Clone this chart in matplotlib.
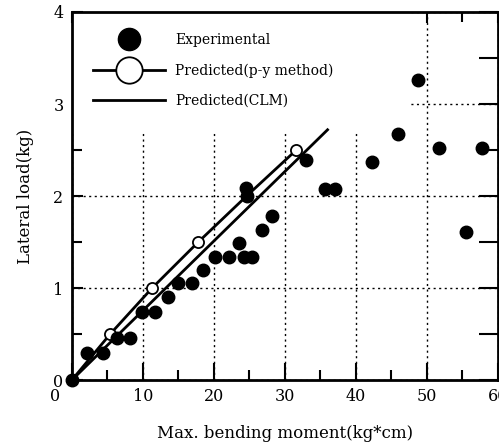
import matplotlib
matplotlib.use("Agg")
import matplotlib.pyplot as plt
from matplotlib.lines import Line2D
from matplotlib.patches import Rectangle
from matplotlib.transforms import ScaledTranslation

# experimental points (filled circles)
exp_x = [0, 2.2, 4.4, 6.3, 8.2, 9.9, 11.7, 13.5, 15.0, 16.9, 18.5, 20.1, 22.1,
         23.5, 24.3, 25.4, 24.5, 24.7, 26.8, 28.2, 32.9, 35.6, 37.0, 42.3,
         45.9, 48.8, 51.7, 57.7, 55.5]
exp_y = [0, 0.29, 0.29, 0.46, 0.46, 0.74, 0.74, 0.90, 1.05, 1.05, 1.20, 1.34,
         1.34, 1.49, 1.34, 1.34, 2.09, 2.00, 1.63, 1.78, 2.39, 2.08, 2.08,
         2.37, 2.67, 3.26, 2.52, 2.52, 1.61]

# predicted, p-y method (line + open circles)
py_x = [0, 5.4, 11.3, 17.8, 24.6, 31.6]
py_y = [0, 0.5, 1.0, 1.5, 2.0, 2.5]

# predicted, CLM (straight line)
clm_x = [0, 36.0]
clm_y = [0, 2.72]

xticks = [0, 10, 20, 30, 40, 50, 60]
yticks = [0, 1, 2, 3, 4]

plt.rcParams['font.family'] = ['DejaVu Serif']

fig = plt.figure(figsize=(4.99, 4.44), dpi=100)
ax = fig.add_axes([0.144, 0.144, 0.854, 0.829])

ax.set_xlim(0, 60)
ax.set_ylim(0, 4)
ax.set_xticks(xticks)
ax.set_yticks(yticks)
ax.set_xticks([5, 15, 25, 35, 45, 55], minor=True)
ax.set_yticks([0.5, 1.5, 2.5, 3.5], minor=True)

ax.set_axisbelow(True)
ax.grid(True, which='major', color='black', linestyle=(0, (1.5, 2.5)), linewidth=1.0)
# blank area behind the legend hides the grid there
ax.add_patch(Rectangle((0, 0.675), 0.79, 0.325, transform=ax.transAxes,
                       facecolor='white', edgecolor='none', zorder=1))

ax.plot(clm_x, clm_y, color='black', lw=2.0, zorder=2)
ax.plot(py_x, py_y, color='black', lw=2.0, marker='o', ms=8, mfc='white',
        mec='black', mew=1.3, zorder=3)
ax.plot(exp_x, exp_y, 'o', color='black', ms=9, zorder=4, clip_on=False)

for s in ax.spines.values():
    s.set_linewidth(2.0)

ax.tick_params(which='both', direction='in', top=True, right=True,
               width=1.5, labelsize=11.5, pad=6)
ax.tick_params(which='major', length=8)
ax.tick_params(which='minor', length=7)
for t in ax.xaxis.get_major_ticks():
    t.tick1line.set_markersize(12)
for t in ax.yaxis.get_major_ticks() + ax.yaxis.get_minor_ticks():
    t.tick2line.set_markersize(14)

# the x "0" label sits left of the corner in the original
lab0 = ax.get_xticklabels()[0]
lab0.set_transform(lab0.get_transform() + ScaledTranslation(-12 / 72, 0, fig.dpi_scale_trans))

ax.set_xlabel('Max. bending moment(kg*cm)', fontsize=12, labelpad=14)
ax.set_ylabel('Lateral load(kg)', fontsize=12, labelpad=14)

handles = [
    Line2D([], [], ls='none', marker='o', ms=16, color='black'),
    Line2D([], [], color='black', lw=2.0, marker='o', ms=19, mfc='white', mec='black', mew=1.3),
    Line2D([], [], color='black', lw=2.0),
]
labels = ['Experimental', 'Predicted(p-y method)', 'Predicted(CLM)']
ax.legend(handles, labels, loc='upper left', bbox_to_anchor=(0.05, 0.942),
          frameon=False, fontsize=10, handlelength=5.2, handletextpad=0.7,
          labelspacing=1.15, borderpad=0, borderaxespad=0)

fig.savefig('out.png', dpi=100)
